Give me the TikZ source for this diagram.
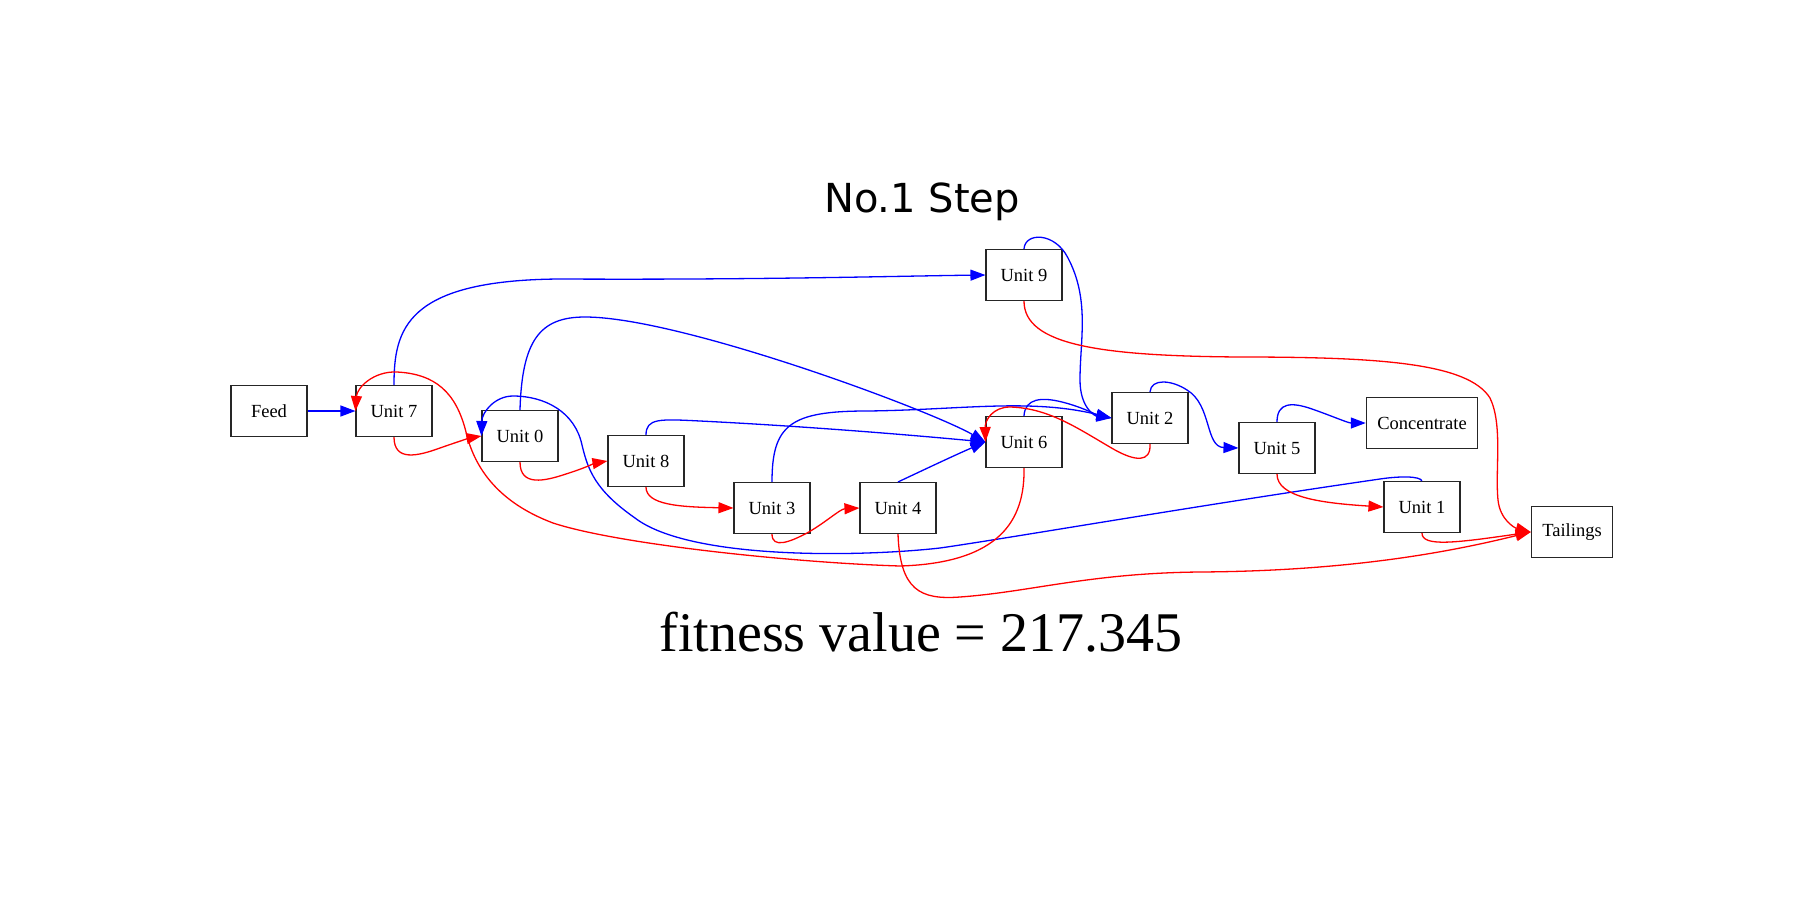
\documentclass[tikz,border=0pt]{standalone}
\usepackage{fontspec}
\setmainfont{Liberation Serif}
\newfontfamily\titlefont{DejaVu Sans}
\usetikzlibrary{arrows.meta}
\begin{document}
\begin{tikzpicture}[x=1pt,y=-1pt,
  ubox/.style={draw=black!85, line width=1.1pt, minimum width=76pt, minimum height=51pt, inner xsep=11pt, inner ysep=0pt, font=\fontsize{18.5}{20}\selectfont},
  bl/.style={color=blue, line width=1.3pt, -{Triangle[length=15pt,width=11pt]}},
  rd/.style={color=red, line width=1.3pt, -{Triangle[length=15pt,width=11pt]}},
  ttl/.style={font=\titlefont\fontsize{40}{48}\selectfont, anchor=base},
  fit/.style={font=\fontsize{56}{64}\selectfont, anchor=base}]
\useasboundingbox (0,0) rectangle (1800,900);
\node[ttl] (title) at (922,212) {No.1 Step};
\node[fit] (fitness) at (921,651) {fitness value = 217.345};
% nodes
\node[ubox] (feed) at (269,411) {Feed};
\node[ubox] (u7) at (394,411) {Unit 7};
\node[ubox] (u0) at (520,436) {Unit 0};
\node[ubox] (u8) at (646,461) {Unit 8};
\node[ubox] (u3) at (772,508) {Unit 3};
\node[ubox] (u4) at (898,508) {Unit 4};
\node[ubox] (u9) at (1024,275) {Unit 9};
\node[ubox] (u6) at (1024,442) {Unit 6};
\node[ubox] (u2) at (1150,418) {Unit 2};
\node[ubox] (u5) at (1277,448) {Unit 5};
\node[ubox] (conc) at (1422,423) {Concentrate};
\node[ubox] (u1) at (1422,507) {Unit 1};
\node[ubox] (tail) at (1572,532) {Tailings};
% blue edges
\draw[bl] (feed) -- (u7);
\draw[bl] (u7.north) .. controls (394,330) and (405,280) .. (560,279) .. controls (760,280) and (900,276) .. (u9.west);
\draw[bl] (u0.north) .. controls (522,340) and (540,317) .. (585,317) .. controls (680,317) and (930,410) .. (u6.west);
\draw[bl] (u8.north) .. controls (646,418) and (660,419) .. (700,421) .. controls (800,426) and (900,434) .. (u6.west);
\draw[bl] (u3.north) .. controls (772,425) and (790,411) .. (867,411) .. controls (960,410) and (1030,398) .. (u2.west);
\draw[bl] (u4.north) .. controls (915,474) and (955,455) .. (u6.west);
\draw[bl] (u9.north) .. controls (1025,232) and (1055,232) .. (1068,258) .. controls (1090,300) and (1080,340) .. (1080,380) .. controls (1080,408) and (1095,416) .. (u2.west);
\draw[bl] (u6.north) .. controls (1025,398) and (1042,397) .. (1062,402) .. controls (1082,407) and (1097,415) .. (u2.west);
\draw[bl] (u2.north) .. controls (1151,378) and (1172,380) .. (1187,390) .. controls (1212,405) and (1205,447) .. (u5.west);
\draw[bl] (u5.north) .. controls (1277,402) and (1292,402) .. (1312,409) .. controls (1332,416) and (1348,423) .. (conc.west);
\draw[bl] (u1.north) .. controls (1420,476) and (1400,476) .. (1380,479) .. controls (1200,505) and (1010,538) .. (940,548) .. controls (860,557) and (690,560) .. (635,518) .. controls (595,490) and (588,470) .. (582,445) .. controls (575,412) and (545,396) .. (513,396) .. controls (495,396) and (482,412) .. (u0.west);
% red edges
\draw[rd] (u7.south) .. controls (394,462) and (418,456) .. (440,448) .. controls (457,442) and (470,438) .. (u0.west);
\draw[rd] (u0.south) .. controls (520,487) and (545,481) .. (566,474) .. controls (582,469) and (596,463) .. (u8.west);
\draw[rd] (u8.south) .. controls (646,505) and (680,507) .. (u3.west);
\draw[rd] (u3.south) .. controls (772,549) and (790,542) .. (807,533) .. controls (825,523) and (840,509) .. (u4.west);
\draw[rd] (u4.south) .. controls (900,590) and (920,600) .. (960,597) .. controls (1030,592) and (1090,573) .. (1200,572) .. controls (1350,571) and (1450,552) .. (tail.west);
\draw[rd] (u5.south) .. controls (1277,497) and (1320,503) .. (u1.west);
\draw[rd] (u1.south) .. controls (1422,547) and (1455,543) .. (tail.west);
\draw[rd] (u9.south) .. controls (1024,345) and (1100,356) .. (1240,357) .. controls (1380,357) and (1468,363) .. (1490,398) .. controls (1503,425) and (1495,470) .. (1498,500) .. controls (1500,520) and (1515,528) .. (tail.west);
\draw[rd] (u2.south) .. controls (1151,463) and (1135,461) .. (1115,450) .. controls (1080,430) and (1050,408) .. (1010,407) .. controls (993,407) and (985,420) .. (u6.west);
\draw[rd] (u6.south) .. controls (1025,520) and (1000,563) .. (900,566) .. controls (800,563) and (620,545) .. (553,523) .. controls (500,503) and (475,470) .. (466,432) .. controls (456,392) and (435,374) .. (397,372) .. controls (373,371) and (357,388) .. (u7.west);
\end{tikzpicture}
\end{document}
